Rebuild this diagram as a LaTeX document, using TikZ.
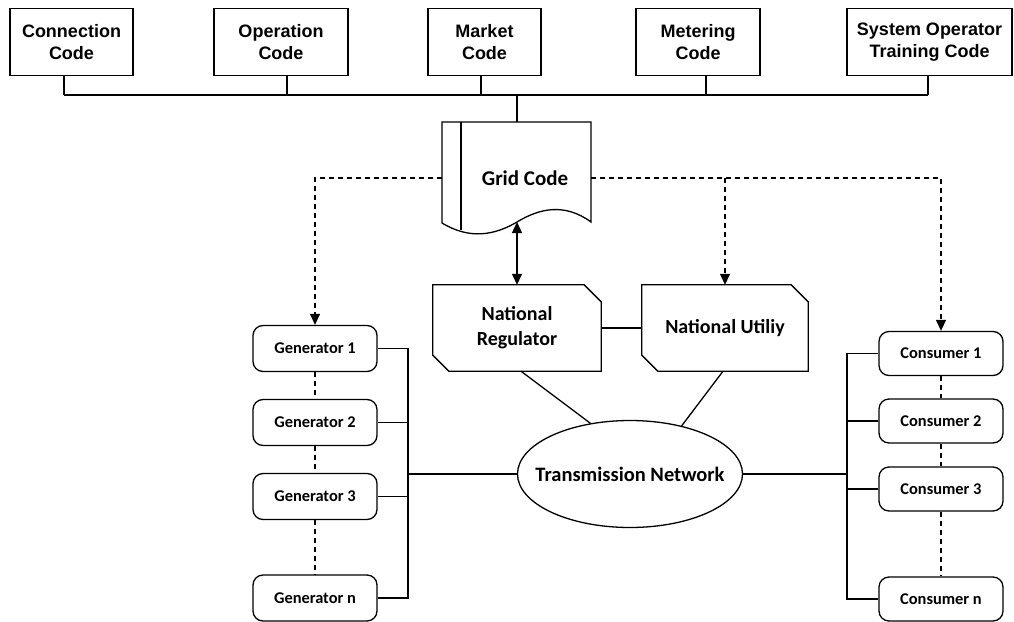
\documentclass[tikz,border=0pt]{standalone}
\usepackage{fontspec}
\setmainfont{Carlito}
\newfontfamily\arialfont{Liberation Sans}
\usetikzlibrary{shapes,arrows.meta,positioning,calc}

\tikzset{
  codebox/.style={draw, line width=1.2pt, minimum height=67pt, align=center, inner sep=0pt,
    font=\arialfont\bfseries\fontsize{18}{22}\selectfont},
  unitbox/.style={draw, line width=1.3pt, rounded corners=10pt, minimum width=124pt, inner sep=0pt,
    font=\bfseries\fontsize{16.4}{19}\selectfont},
  bodybox/.style={minimum width=168pt, minimum height=86pt, align=center, inner sep=0pt,
    font=\bfseries\fontsize{20}{25}\selectfont},
  link/.style={line width=1.3pt},
  hint/.style={line width=1.3pt, dash pattern=on 5pt off 4pt},
  tip/.style={-{Triangle[width=10pt,length=11pt]}}
}

% outline with two cut corners round a bodybox node
\newcommand\cutbox[1]{%
  \draw[link] (#1.north west) -- ([xshift=-17pt]#1.north east) -- ([yshift=-17pt]#1.north east)
    -- (#1.south east) -- ([xshift=16pt]#1.south west) -- ([yshift=16pt]#1.south west) -- cycle;}

\begin{document}
\begin{tikzpicture}[x=1pt, y=-1pt]
  \useasboundingbox (0,0) rectangle (1014,621);

  % Codes
  \node[codebox, minimum width=123pt] (conn) at (71.5,42) {Connection\\Code};
  \node[codebox, minimum width=134pt] (oper) at (281,42) {Operation\\Code};
  \node[codebox, minimum width=113pt] (mark) at (484.5,42) {Market\\Code};
  \node[codebox, minimum width=124pt] (mete) at (698,42) {Metering\\Code};
  \node[codebox, minimum width=165pt] (syso) at (929.5,42) {System Operator\\Training Code};

  \coordinate (busL) at (64,95);
  \coordinate (busR) at (928,95);
  \draw[link] (busL) -- (busR);
  \draw[link] ([xshift=-7.5pt]conn.south) -- (busL);
  \draw[link] ([xshift=6pt]oper.south) -- ++(0,20);
  \draw[link] ([xshift=-3.5pt]mark.south) -- ++(0,20);
  \draw[link] ([xshift=8pt]mete.south) -- ++(0,20);
  \draw[link] ([xshift=-1.5pt]syso.south) -- (busR);

  % Grid code
  \draw[link] (442,122) -- (591,122) -- (591,222)
    .. controls (565,203) and (540,208) .. (517,222)
    .. controls (495,235) and (470,240) .. (442,223) -- cycle;
  \draw[link] (461,122) -- (461,230);
  \node[font=\bfseries\fontsize{21}{25}\selectfont] (gc) at (525,178) {Grid Code};
  \coordinate (gctop) at (517,122);
  \coordinate (gcbot) at (517,222);
  \coordinate (gcL) at (442,178);
  \coordinate (gcR) at (591,178);
  \draw[link] (busL -| gctop) -- (gctop);

  % Regulator and utility
  \node[bodybox] (reg) at (517,328) {National\\Regulator};
  \cutbox{reg}
  \node[bodybox, minimum width=166pt] (uti) at (725,328) {National Utiliy};
  \cutbox{uti}
  \draw[link] (reg.east) -- (uti.west);
  \draw[link, {Triangle[width=10pt,length=11pt]}-{Triangle[width=10pt,length=11pt]}] (gcbot) -- (reg.north);

  % Transmission network
  \node[draw, ellipse, link, inner sep=0pt, minimum width=225pt, minimum height=107pt,
    font=\bfseries\fontsize{20.5}{25}\selectfont] (tn) at (630,474) {\makebox[0pt]{Transmission Network}};
  \draw[link] ([xshift=4pt]reg.south) -- (tn.128);
  \draw[link] ([xshift=-2pt]uti.south) -- (tn.43);

  % Generators
  \node[unitbox, minimum height=46pt] (gen1) at (315,348.5) {Generator 1};
  \node[unitbox, minimum height=46pt] (gen2) at (315,422.5) {Generator 2};
  \node[unitbox, minimum height=46pt] (gen3) at (315,496.5) {Generator 3};
  \node[unitbox, minimum height=46pt] (genn) at (315,598) {Generator n};
  \draw[hint] (gen1.south) -- (gen2.north);
  \draw[hint] (gen2.south) -- (gen3.north);
  \draw[hint] (gen3.south) -- (genn.north);
  \coordinate (gbus) at (408,474);
  \draw[link] (gen1.east) -- (gen1.east -| gbus) -- (genn.east -| gbus) -- (genn.east);
  \draw[link] (gen2.east) -- (gen2.east -| gbus);
  \draw[link] (gen3.east) -- (gen3.east -| gbus);
  \draw[link] (gbus) -- (tn.west);

  % Consumers
  \node[unitbox, minimum height=44pt] (con1) at (941,353.5) {Consumer 1};
  \node[unitbox, minimum height=44pt] (con2) at (941,421) {Consumer 2};
  \node[unitbox, minimum height=44pt] (con3) at (941,489) {Consumer 3};
  \node[unitbox, minimum height=44pt] (conn) at (941,599) {Consumer n};
  \draw[hint] (con1.south) -- (con2.north);
  \draw[hint] (con2.south) -- (con3.north);
  \draw[hint] (con3.south) -- (conn.north);
  \coordinate (cbus) at (847,474);
  \draw[link] (con1.west) -- (con1.west -| cbus) -- (conn.west -| cbus) -- (conn.west);
  \draw[link] (con2.west) -- (con2.west -| cbus);
  \draw[link] (con3.west) -- (con3.west -| cbus);
  \draw[link] (cbus) -- (tn.east);

  % Dashed links from the grid code
  \draw[hint, tip] (gcL) -| (gen1.north);
  \draw[hint, tip] (gcR) -| (con1.north);
  \draw[hint, tip] (gcR -| uti.north) -- (uti.north);
\end{tikzpicture}
\end{document}
